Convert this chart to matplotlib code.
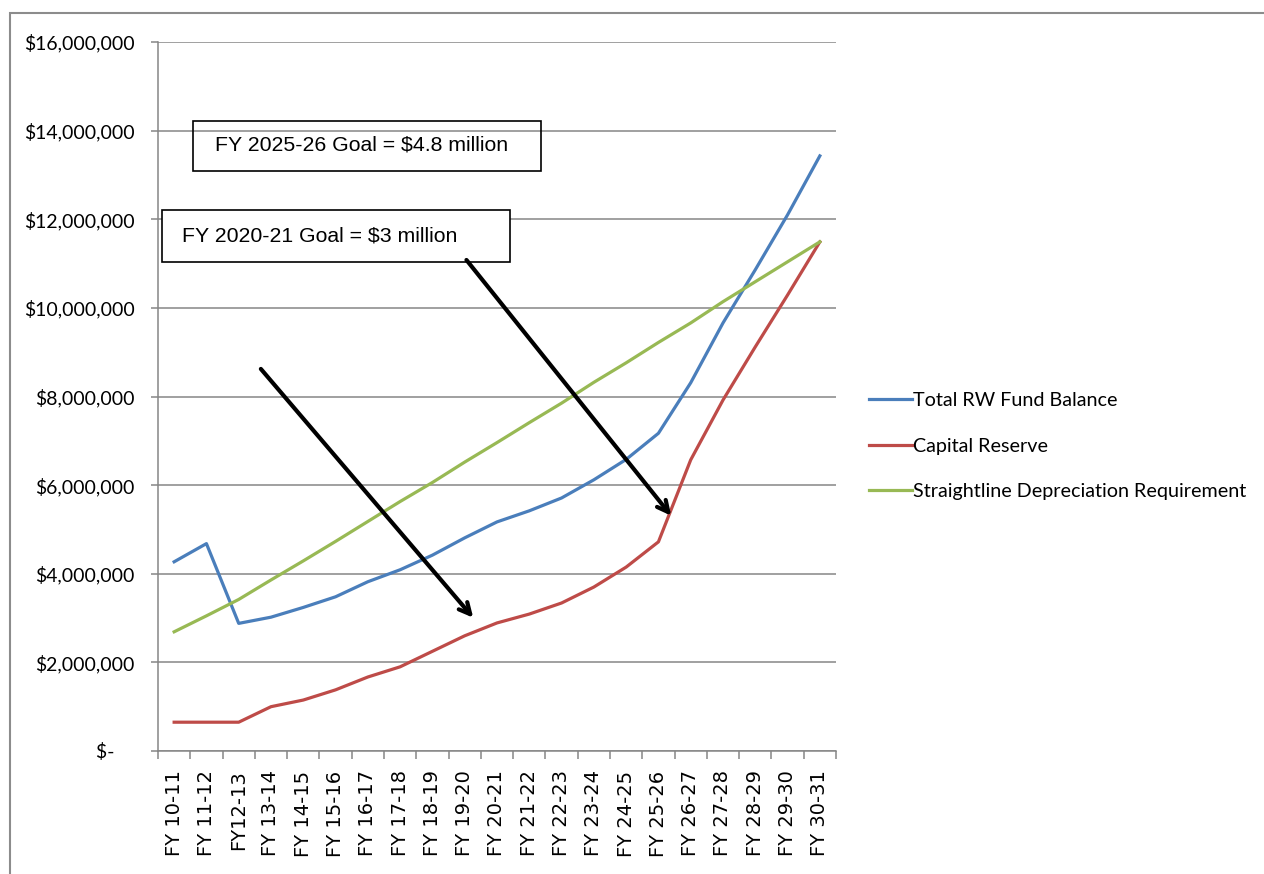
import matplotlib
matplotlib.use("Agg")
import matplotlib.pyplot as plt
from matplotlib.patches import Rectangle
from matplotlib.ticker import FuncFormatter
import numpy as np

years = ["FY 10-11", "FY 11-12", "FY12-13", "FY 13-14", "FY 14-15", "FY 15-16",
         "FY 16-17", "FY 17-18", "FY 18-19", "FY 19-20", "FY 20-21", "FY 21-22",
         "FY 22-23", "FY 23-24", "FY 24-25", "FY 25-26", "FY 26-27", "FY 27-28",
         "FY 28-29", "FY 29-30", "FY 30-31"]

total_rw = [4270000, 4680000, 2880000, 3020000, 3240000, 3480000, 3820000, 4090000,
            4420000, 4810000, 5170000, 5420000, 5710000, 6120000, 6580000, 7170000,
            8310000, 9660000, 10860000, 12100000, 13430000]
capital_reserve = [650000, 650000, 650000, 1000000, 1150000, 1380000, 1670000, 1900000,
                   2250000, 2600000, 2890000, 3090000, 3340000, 3700000, 4150000, 4720000,
                   6570000, 7920000, 9120000, 10290000, 11490000]
straightline = [2690000, 3050000, 3420000, 3860000, 4290000, 4730000, 5180000, 5630000,
                6060000, 6520000, 6960000, 7410000, 7850000, 8320000, 8760000, 9220000,
                9660000, 10140000, 10590000, 11040000, 11490000]

calibri_like = ["Lato", "DejaVu Sans"]
arial = ["Liberation Sans", "DejaVu Sans"]

fig = plt.figure(figsize=(12.64, 8.74), dpi=100)
ax = fig.add_axes([158 / 1264, 1 - 751 / 874, (836 - 158) / 1264, (751 - 42) / 874])

x = np.arange(len(years))
ax.plot(x, total_rw, color="#4A7EBB", lw=2.3, label="Total RW Fund Balance", zorder=3)
ax.plot(x, capital_reserve, color="#BE4B48", lw=2.3, label="Capital Reserve", zorder=3)
ax.plot(x, straightline, color="#98B954", lw=2.3, label="Straightline Depreciation Requirement", zorder=3)

ax.set_xlim(-0.5, len(years) - 0.5)
ax.set_ylim(0, 16000000)
ax.set_yticks(np.arange(0, 16000001, 2000000))
ax.yaxis.set_major_formatter(FuncFormatter(lambda v, p: "$-    " if v == 0 else "${:,.0f}".format(v)))
ax.grid(axis="y", color="#868686", lw=1.1)
ax.set_axisbelow(True)

ax.set_xticks(x)
ax.set_xticklabels(years, rotation=90, family=["DejaVu Sans"], fontsize=14)
ax.set_xticks(np.arange(-0.5, len(years), 1), minor=True)
ax.tick_params(axis="x", which="major", length=0, pad=14)
ax.tick_params(axis="x", which="minor", length=6, color="#868686", width=1.1)
ax.tick_params(axis="y", length=5, color="#868686", width=1.1, pad=12, labelsize=14)
for lab in ax.get_yticklabels():
    lab.set_family(calibri_like)

for s in ["top", "right"]:
    ax.spines[s].set_visible(False)
for s in ["left", "bottom"]:
    ax.spines[s].set_color("#868686")
    ax.spines[s].set_linewidth(1.1)

# goal boxes
ax.add_patch(Rectangle((193, 874 - 171), 348, 50, transform=None, fill=False, ec="black", lw=1.2, zorder=5))
ax.add_patch(Rectangle((162, 874 - 262), 348, 52, transform=None, fill=True, fc="white", ec="black", lw=1.2, zorder=5))
fig.text(215 / 1264, 1 - 145 / 874, "FY 2025-26 Goal = $4.8 million", family=arial, fontsize=15.3, va="center", zorder=6)
fig.text(182 / 1264, 1 - 236 / 874, "FY 2020-21 Goal = $3 million", family=arial, fontsize=15.3, va="center", zorder=6)

# arrows
ax.annotate("", xy=(9.32, 2960000), xytext=(2.63, 8670000),
            arrowprops=dict(arrowstyle="->,head_length=0.8,head_width=0.4", color="black", lw=3), zorder=6)
ax.annotate("", xy=(15.45, 5260000), xytext=(9.0, 11130000),
            arrowprops=dict(arrowstyle="->,head_length=0.8,head_width=0.4", color="black", lw=3), zorder=6)

leg = ax.legend(loc="center left", bbox_to_anchor=(1.022, 0.43), frameon=False,
                prop={"family": calibri_like, "size": 14.2}, handlelength=2.2, handletextpad=0.05,
                labelspacing=1.45)

# outer frame
fig.add_artist(Rectangle((10 / 1264, -0.1), 1.2, 1 - 13 / 874 + 0.1, transform=fig.transFigure,
                         fill=False, ec="#8c8c8c", lw=1.5))

fig.savefig("out.png", dpi=100)
